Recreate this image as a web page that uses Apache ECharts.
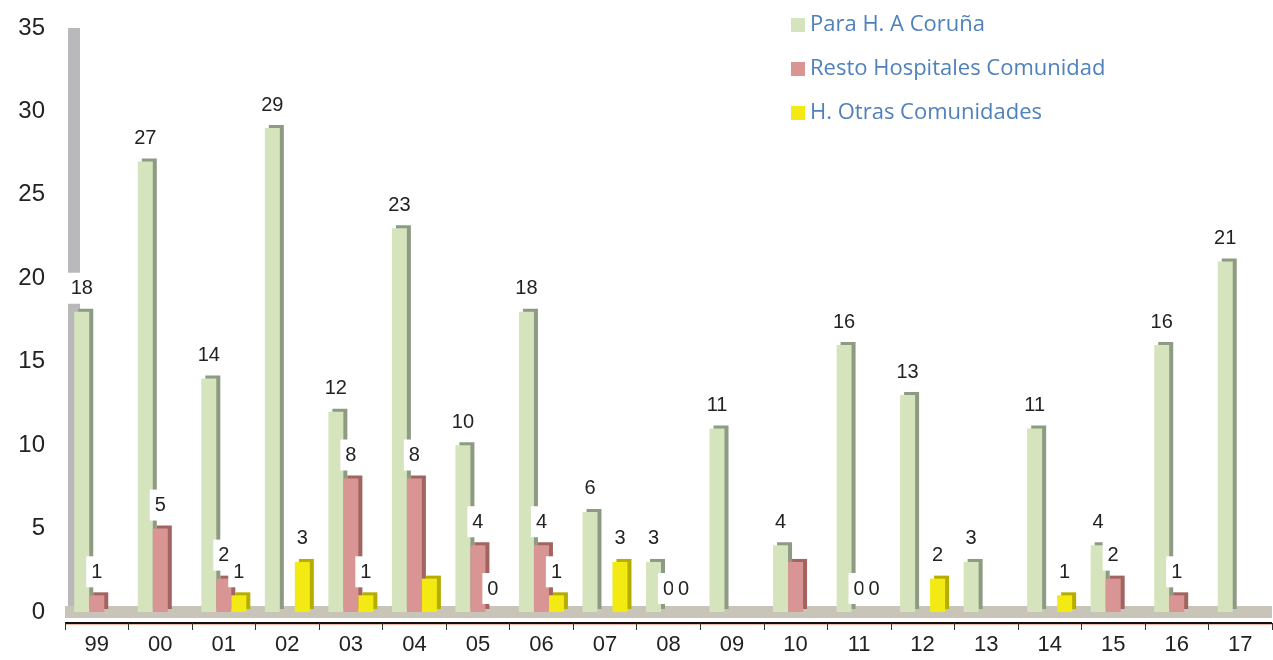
<!DOCTYPE html>
<html>
<head>
<meta charset="utf-8">
<script src="https://cdn.jsdelivr.net/npm/echarts@6/dist/echarts.min.js"></script>
<style>
  html, body { margin: 0; padding: 0; background: #fff; }
  #chart { width: 1273px; height: 660px; }
</style>
</head>
<body>
<div id="chart"></div>
<script>
const years = ["99", "00", "01", "02", "03", "04", "05", "06", "07", "08", "09", "10", "11", "12", "13", "14", "15", "16", "17"];
const coruna = [18, 27, 14, 29, 12, 23, 10, 18, 6, 3, 11, 4, 16, 13, 3, 11, 4, 16, 21];
const resto = [1, 5, 2, null, 8, 8, 4, 4, null, 0, null, 3, 0, null, null, null, 2, 1, null];
const otras = [0, 0, 1, 3, 1, 2, 0, 1, 3, 0, null, null, 0, 2, null, 1, null, null, null];
// bars whose value label is not printed in the original
const restoNoLabel = ["10"];
const otrasNoLabel = ["99", "00", "04"];

const chart = echarts.init(document.getElementById("chart"));

const labelStyle = {
  show: true,
  position: "top",
  distance: 8,
  color: "#222",
  fontFamily: "Liberation Sans",
  fontSize: 20,
  backgroundColor: "#fff",
  padding: [6, 5, 5, 5]
};

function toData(values, hidden) {
  return values.map((v, i) => {
    if (v === null) return "-";
    if (hidden && hidden.includes(years[i])) return { value: v, label: { show: false } };
    return v;
  });
}

function barSeries(name, values, face, side, hidden) {
  return {
    name: name,
    type: "bar",
    barWidth: 15,
    barGap: "0%",
    data: toData(values, hidden),
    itemStyle: {
      color: face,
      shadowColor: side,
      shadowBlur: 0,
      shadowOffsetX: 4,
      shadowOffsetY: -3
    },
    label: labelStyle
  };
}

const option = {
  animation: false,
  color: ["#d5e4bd", "#d99594", "#f2ea12"],
  grid: { left: 65, right: 1, top: 28, bottom: 48 },
  legend: {
    orient: "vertical",
    left: 786,
    top: 7,
    itemWidth: 14,
    itemHeight: 14,
    itemGap: 18,
    icon: "rect",
    textStyle: { color: "#4f81bd", fontFamily: "Open Sans", fontSize: 22, lineHeight: 26 },
    data: ["Para H. A Coruña", "Resto Hospitales Comunidad", "H. Otras Comunidades"]
  },
  xAxis: [
    {
      type: "category",
      data: years,
      axisLine: { show: true, lineStyle: { color: "#c8c5b8", width: 12, cap: "butt" } },
      axisTick: { show: false },
      axisLabel: { show: false }
    },
    {
      type: "category",
      data: years,
      position: "bottom",
      offset: 11,
      axisLine: { show: true, lineStyle: { color: "#111", width: 2, cap: "butt", shadowColor: "#f0b8a8", shadowBlur: 0, shadowOffsetY: 1 } },
      axisTick: { show: true, length: 7, lineStyle: { color: "#333" } },
      axisLabel: { color: "#222", fontFamily: "Liberation Sans", fontSize: 22, margin: 11 }
    }
  ],
  yAxis: {
    type: "value",
    min: 0,
    max: 35,
    interval: 5,
    offset: -9,
    axisLine: { show: true, lineStyle: { color: "#b9b9bb", width: 12, cap: "butt" } },
    axisTick: { show: false },
    splitLine: { show: false },
    axisLabel: { color: "#222", fontFamily: "Liberation Sans", fontSize: 24, margin: 29 }
  },
  series: [
    barSeries("Para H. A Coruña", coruna, "#d5e4bd", "#8d9a84"),
    barSeries("Resto Hospitales Comunidad", resto, "#d99594", "#a16461", restoNoLabel),
    barSeries("H. Otras Comunidades", otras, "#f2ea12", "#b5ad00", otrasNoLabel)
  ]
};

chart.setOption(option);
</script>
</body>
</html>
